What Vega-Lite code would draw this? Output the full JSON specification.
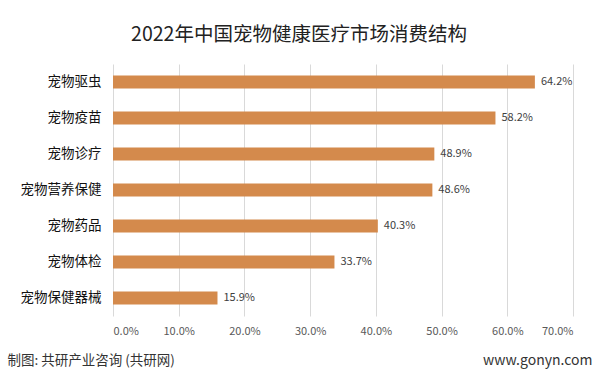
{
  "$schema": "https://vega.github.io/schema/vega-lite/v6.json",
  "width": 460,
  "height": 252,
  "autosize": {"type": "none"},
  "padding": {"left": 113, "top": 64, "right": 27, "bottom": 60},
  "background": "white",
  "config": {
    "font": "Noto Sans CJK SC",
    "view": {"stroke": null}
  },
  "title": {
    "text": "2022年中国宠物健康医疗市场消费结构",
    "fontSize": 19.5,
    "fontWeight": "normal",
    "color": "#222222",
    "anchor": "middle",
    "dx": -44,
    "offset": 19
  },
  "data": {
    "values": [
      {"item": "宠物驱虫", "value": 0.642},
      {"item": "宠物疫苗", "value": 0.582},
      {"item": "宠物诊疗", "value": 0.489},
      {"item": "宠物营养保健", "value": 0.486},
      {"item": "宠物药品", "value": 0.403},
      {"item": "宠物体检", "value": 0.337},
      {"item": "宠物保健器械", "value": 0.159}
    ]
  },
  "encoding": {
    "y": {
      "field": "item",
      "type": "nominal",
      "sort": null,
      "scale": {"paddingInner": 0.64, "paddingOuter": 0.32},
      "axis": {
        "title": "www.gonyn.com",
        "titleAngle": 0,
        "titleX": 479,
        "titleY": 296,
        "titleAlign": "right",
        "titleBaseline": "middle",
        "titleFontSize": 14,
        "titleFontWeight": "normal",
        "titleColor": "#333333",
        "domain": false,
        "ticks": false,
        "labelPadding": 12,
        "labelFontSize": 13.5,
        "labelColor": "#111111"
      }
    },
    "x": {
      "field": "value",
      "type": "quantitative",
      "scale": {"domain": [0, 0.7]},
      "axis": {
        "values": [0, 0.1, 0.2, 0.3, 0.4, 0.5, 0.6, 0.7],
        "format": ".1%",
        "title": "制图: 共研产业咨询 (共研网)",
        "titleAnchor": "start",
        "titleAlign": "left",
        "titleX": -106,
        "titleY": 44,
        "titleBaseline": "middle",
        "titleFontSize": 13.5,
        "titleFontWeight": "normal",
        "titleColor": "#333333",
        "domain": false,
        "ticks": false,
        "grid": true,
        "gridColor": "#d9d9d9",
        "labelFontSize": 11,
        "labelColor": "#595959",
        "labelPadding": 9
      }
    }
  },
  "layer": [
    {
      "mark": {"type": "bar", "color": "#D48A4C"}
    },
    {
      "mark": {"type": "text", "align": "left", "dx": 6, "fontSize": 11, "color": "#404040"},
      "encoding": {
        "text": {"field": "value", "type": "quantitative", "format": ".1%"}
      }
    }
  ]
}
